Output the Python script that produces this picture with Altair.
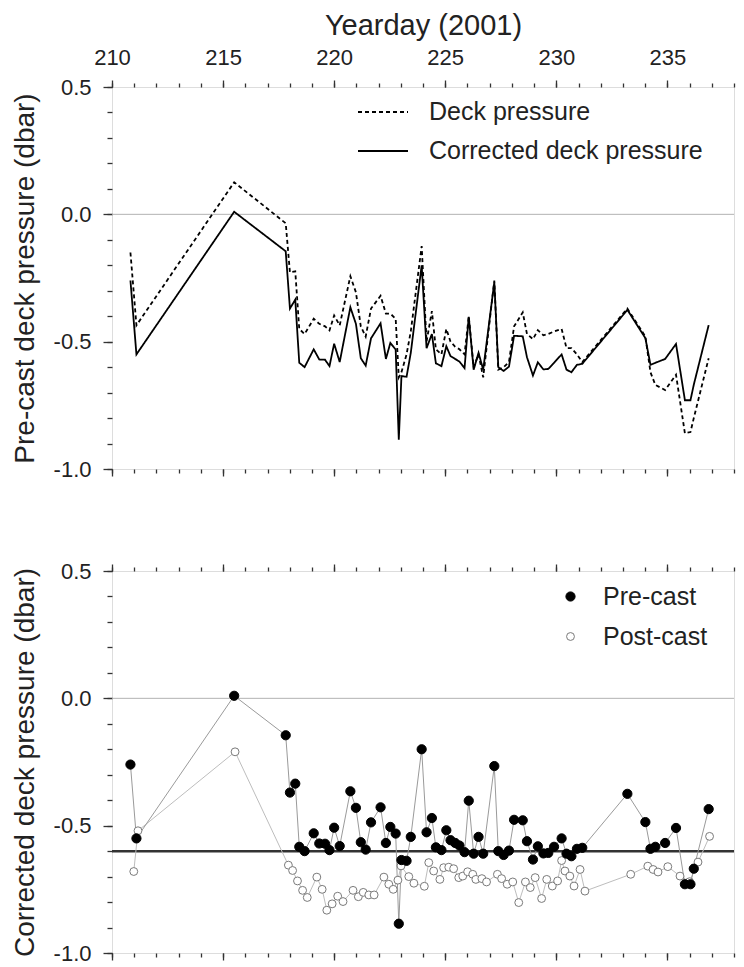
import altair as alt
import pandas as pd

# ---------------- data ----------------
cast_day = [210.83, 211.10, 215.50, 217.82, 218.01, 218.25, 218.43, 218.67, 219.08, 219.33,
            219.59, 219.79, 220.00, 220.25, 220.73, 220.98, 221.20, 221.42, 221.66, 222.09,
            222.33, 222.53, 222.77, 222.91, 223.03, 223.26, 223.45, 223.94, 224.16, 224.40,
            224.58, 224.83, 225.05, 225.24, 225.45, 225.64, 225.87, 226.06, 226.28, 226.50,
            226.71, 227.21, 227.39, 227.63, 227.87, 228.10, 228.49, 228.68, 228.95, 229.17,
            229.42, 229.64, 229.90, 230.24, 230.46, 230.68, 230.93, 231.17, 233.20, 234.01,
            234.24, 234.46, 234.90, 235.39, 235.79, 236.04, 236.19, 236.86]

deck_pressure = [-0.15, -0.436, 0.126, -0.035, -0.228, -0.224, -0.45, -0.47, -0.41, -0.43,
                 -0.44, -0.456, -0.397, -0.436, -0.243, -0.306, -0.44, -0.48, -0.37, -0.32,
                 -0.39, -0.39, -0.41, -0.64, -0.62, -0.55, -0.46, -0.125, -0.50, -0.38,
                 -0.53, -0.55, -0.45, -0.50, -0.52, -0.53, -0.55, -0.40, -0.60, -0.55,
                 -0.64, -0.26, -0.61, -0.60, -0.58, -0.44, -0.385, -0.47, -0.49, -0.455,
                 -0.475, -0.47, -0.46, -0.45, -0.525, -0.525, -0.55, -0.58, -0.37, -0.48,
                 -0.62, -0.67, -0.69, -0.63, -0.86, -0.855, -0.80, -0.565]

corrected_pressure = [-0.26, -0.55, 0.01, -0.145, -0.37, -0.335, -0.583, -0.60, -0.53, -0.57,
                      -0.571, -0.596, -0.508, -0.58, -0.365, -0.43, -0.565, -0.594, -0.487, -0.428,
                      -0.568, -0.505, -0.531, -0.885, -0.635, -0.638, -0.544, -0.20, -0.526, -0.47,
                      -0.585, -0.596, -0.518, -0.557, -0.568, -0.578, -0.604, -0.402, -0.61, -0.544,
                      -0.61, -0.266, -0.60, -0.615, -0.598, -0.477, -0.479, -0.561, -0.633, -0.581,
                      -0.609, -0.607, -0.583, -0.55, -0.61, -0.62, -0.591, -0.587, -0.375, -0.486,
                      -0.591, -0.583, -0.568, -0.509, -0.73, -0.73, -0.669, -0.435]

post_day = [210.98, 211.17, 215.54, 217.94, 218.13, 218.35, 218.58, 218.79, 219.22, 219.46,
            219.67, 219.91, 220.16, 220.40, 220.85, 221.09, 221.31, 221.56, 221.80, 222.24,
            222.46, 222.66, 222.87, 223.01, 223.36, 223.59, 224.06, 224.26, 224.48, 224.76,
            224.93, 225.16, 225.38, 225.61, 225.79, 226.01, 226.24, 226.38, 226.65, 226.86,
            227.35, 227.54, 227.79, 228.04, 228.31, 228.61, 228.83, 229.05, 229.34, 229.57,
            229.82, 230.06, 230.24, 230.39, 230.61, 230.80, 231.07, 231.29, 233.35, 234.12,
            234.36, 234.58, 235.02, 235.57, 236.00, 236.38, 236.90]

post_pressure = [-0.68, -0.52, -0.21, -0.655, -0.676, -0.717, -0.754, -0.782, -0.702, -0.75,
                 -0.832, -0.807, -0.777, -0.798, -0.754, -0.779, -0.762, -0.772, -0.772, -0.702,
                 -0.73, -0.75, -0.714, -0.658, -0.70, -0.726, -0.738, -0.645, -0.678, -0.711,
                 -0.665, -0.663, -0.669, -0.704, -0.698, -0.681, -0.691, -0.711, -0.708, -0.721,
                 -0.691, -0.708, -0.73, -0.721, -0.802, -0.721, -0.743, -0.704, -0.786, -0.711,
                 -0.737, -0.717, -0.637, -0.678, -0.698, -0.737, -0.672, -0.757, -0.691, -0.659,
                 -0.672, -0.682, -0.661, -0.698, -0.72, -0.643, -0.542]

top_series = ["Deck pressure", "Corrected deck pressure"]
bottom_series = ["Pre-cast", "Post-cast"]
zero_line = [0.0]
reference_line = [-0.6]

x_major_ticks = [210, 215, 220, 225, 230, 235]
x_minor_ticks = list(range(210, 239))
y_major_ticks = [-1.0, -0.5, 0.0, 0.5]
y_minor_ticks = [round(-1.0 + 0.1 * i, 1) for i in range(16)]

FONT = "Liberation Sans"

# ---------------- tables ----------------
n = len(cast_day)
top_df = pd.DataFrame({
    "day": cast_day + cast_day,
    "p": deck_pressure + corrected_pressure,
    "series": [top_series[0]] * n + [top_series[1]] * n,
})
pre_df = pd.DataFrame({"day": cast_day, "p": corrected_pressure, "series": bottom_series[0]})
post_df = pd.DataFrame({"day": post_day, "p": post_pressure, "series": bottom_series[1]})
pts_df = pd.concat([post_df, pre_df], ignore_index=True)
zero_df = pd.DataFrame({"v": zero_line})
ref_df = pd.DataFrame({"v": reference_line})

xscale = alt.Scale(domain=[210, 238], nice=False, zero=False)
yscale = alt.Scale(domain=[-1.0, 0.5], nice=False, zero=False)

BASE_AX = dict(grid=False, domain=False, tickColor="#333", tickWidth=1.3,
               labelColor="#222", titleColor="#222", labelFont=FONT, titleFont=FONT,
               titleFontWeight="normal", labelFlush=False, labelOverlap=False)


def axis(orient, values, size, title=None, **kw):
    opts = dict(BASE_AX)
    opts.update(kw)
    return alt.Axis(orient=orient, values=values, tickSize=size, title=title, **opts)


ylab = "replace(format(datum.value, '.1f'), '\u2212', '-')"

x_top_major_lab = axis("top", x_major_ticks, 7, title="Yearday (2001)", labels=True,
                       labelFontSize=22, titleFontSize=29, labelPadding=11, titlePadding=6, format="d")
x_top_major = axis("top", x_major_ticks, 7, labels=False)
x_top_minor = axis("top", x_minor_ticks, 4, labels=False)
x_bot_major = axis("bottom", x_major_ticks, 7, labels=False)
x_bot_minor = axis("bottom", x_minor_ticks, 4, labels=False)


def y_major(title):
    return axis("left", y_major_ticks, 9, title=title, labels=True, labelFontSize=22,
                titleFontSize=28, labelPadding=12, titlePadding=14, labelExpr=ylab)


y_minor = axis("left", y_minor_ticks, 5, labels=False)

W, H = 622, 382

# ---------------- top panel ----------------
zero_rule = alt.Chart(zero_df).mark_rule(color="#b3b3b3", strokeWidth=1).encode(
    y=alt.Y("v:Q", scale=yscale, axis=None))

top_lines = alt.Chart(top_df).mark_line(color="black", strokeWidth=1.8).encode(
    x=alt.X("day:Q", scale=xscale, axis=x_top_major_lab),
    y=alt.Y("p:Q", scale=yscale, axis=y_major("Pre-cast deck pressure (dbar)")),
    strokeDash=alt.StrokeDash(
        "series:N",
        scale=alt.Scale(domain=top_series, range=[[4, 3], [1, 0]]),
        legend=alt.Legend(orient="none", legendX=245, legendY=-1, title=None,
                          symbolType="stroke", symbolSize=2500, symbolStrokeWidth=2,
                          symbolStrokeColor="black", labelFontSize=25, labelFont=FONT,
                          labelColor="#222", labelOffset=20, rowPadding=0, padding=0,
                          labelLimit=0),
    ),
)


def ghost(df, xa, ya):
    enc = dict(x=alt.X("day:Q", scale=xscale, axis=xa))
    enc["y"] = alt.Y("p:Q", scale=yscale, axis=ya) if ya is not None else alt.Y("p:Q", scale=yscale, axis=None)
    return alt.Chart(df).mark_line(strokeOpacity=0).encode(detail="series:N", **enc)


top = alt.layer(
    zero_rule,
    top_lines,
    ghost(top_df, x_top_minor, y_minor),
    ghost(top_df, x_bot_major, None),
    ghost(top_df, x_bot_minor, None),
).resolve_axis(x="independent", y="independent").properties(width=W, height=H)

# ---------------- bottom panel ----------------
zero_rule2 = alt.Chart(zero_df).mark_rule(color="#b3b3b3", strokeWidth=1).encode(
    y=alt.Y("v:Q", scale=yscale, axis=None))
ref_rule = alt.Chart(ref_df).mark_rule(color="#333", strokeWidth=2.5).encode(
    y=alt.Y("v:Q", scale=yscale, axis=None))

post_line = alt.Chart(post_df).mark_line(color="#bdbdbd", strokeWidth=1).encode(
    x=alt.X("day:Q", scale=xscale, axis=x_top_major),
    y=alt.Y("p:Q", scale=yscale, axis=y_major("Corrected deck pressure (dbar)")),
)
pre_line = alt.Chart(pre_df).mark_line(color="#9a9a9a", strokeWidth=1).encode(
    x=alt.X("day:Q", scale=xscale, axis=x_top_minor),
    y=alt.Y("p:Q", scale=yscale, axis=y_minor),
)

bottom_legend = alt.Legend(orient="none", legendX=446, legendY=13, title=None,
                           symbolType="circle", symbolStrokeWidth=1,
                           labelFontSize=25, labelFont=FONT, labelColor="#222",
                           labelOffset=20, rowPadding=14, padding=0, labelLimit=0)

points = alt.Chart(pts_df).mark_point(shape="circle", filled=True, opacity=1, strokeWidth=1).encode(
    x=alt.X("day:Q", scale=xscale, axis=x_bot_major),
    y=alt.Y("p:Q", scale=yscale, axis=None),
    fill=alt.Fill("series:N", scale=alt.Scale(domain=bottom_series, range=["black", "white"]),
                  legend=bottom_legend),
    stroke=alt.Stroke("series:N", scale=alt.Scale(domain=bottom_series, range=["black", "#7a7a7a"]),
                      legend=bottom_legend),
    size=alt.Size("series:N", scale=alt.Scale(domain=bottom_series, range=[85, 62]),
                  legend=bottom_legend),
)

bottom = alt.layer(
    zero_rule2,
    ref_rule,
    post_line,
    pre_line,
    points,
    ghost(pre_df, x_bot_minor, None),
).resolve_axis(x="independent", y="independent").properties(width=W, height=H)

chart = alt.vconcat(top, bottom, spacing=78).resolve_scale(
    fill="independent", stroke="independent", size="independent", strokeDash="independent"
).resolve_legend(
    fill="independent", stroke="independent", size="independent", strokeDash="independent"
).configure_view(
    stroke="#333", strokeWidth=2.5
).configure(font=FONT).properties(
    padding={"left": 2, "top": 2, "right": 0, "bottom": 0}
)

chart.save("out.html", embed_options={"renderer": "svg", "actions": False})
